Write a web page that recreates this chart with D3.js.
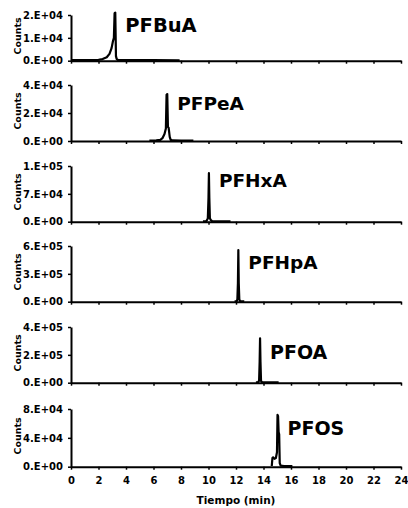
<!DOCTYPE html>
<html>
<head>
<meta charset="utf-8">
<script src="https://cdn.jsdelivr.net/npm/d3@7"></script>
<style>
  body { margin: 0; background: #fff; }
  svg text { font-family: "DejaVu Sans", sans-serif; font-weight: bold; fill: #000; }
</style>
</head>
<body>
<div id="chart"></div>
<script>
// retention time (min) / counts for each compound trace
const pfbuaTime   = [0, 1, 2, 2.3, 2.6, 2.8, 2.95, 3.05, 3.12, 3.17, 3.22, 3.27, 3.32, 3.4, 3.6, 4.5, 6, 7.9];
const pfbuaCounts = [300, 250, 400, 700, 1500, 3000, 5500, 8500, 10000, 20800, 21000, 2000, 800, 400, 300, 250, 300, 200];

const pfpeaTime   = [5.7, 6.2, 6.5, 6.65, 6.8, 6.9, 6.95, 7.0, 7.05, 7.1, 7.18, 7.25, 7.4, 8, 8.9];
const pfpeaCounts = [300, 400, 800, 2000, 5000, 9000, 33000, 33500, 10000, 9500, 3000, 800, 400, 300, 300];

const pfhxaTime   = [9.6, 9.85, 9.95, 10.0, 10.03, 10.06, 10.1, 10.15, 10.25, 10.5, 11.6];
const pfhxaCounts = [800, 1500, 8000, 60000, 122000, 60000, 9000, 5000, 1500, 1000, 800];

const pfhpaTime   = [11.9, 12.05, 12.1, 12.14, 12.17, 12.2, 12.24, 12.3, 12.6];
const pfhpaCounts = [3000, 5000, 25000, 200000, 556000, 200000, 25000, 5000, 3000];

const pfoaTime    = [13.45, 13.6, 13.68, 13.72, 13.75, 13.78, 13.82, 13.9, 14.3, 15.1];
const pfoaCounts  = [2000, 3000, 15000, 150000, 319000, 150000, 12000, 3000, 2500, 2000];

const pfosTime    = [14.6, 14.65, 14.7, 14.8, 14.9, 14.98, 15.02, 15.06, 15.1, 15.14, 15.18, 15.25, 15.5, 16.1];
const pfosCounts  = [1000, 12000, 13000, 11000, 12000, 20000, 72000, 70000, 48000, 45000, 5000, 1500, 1000, 800];

const compounds = ["PFBuA", "PFPeA", "PFHxA", "PFHpA", "PFOA", "PFOS"];
const yTicks = [
  [0, 1e4, 2e4],
  [0, 2e4, 4e4],
  [0, 7e4, 1.4e5],
  [0, 3e5, 6e5],
  [0, 2e5, 4e5],
  [0, 4e4, 8e4]
];
const xTicks = [0, 2, 4, 6, 8, 10, 12, 14, 16, 18, 20, 22, 24];

const traces = [
  [pfbuaTime, pfbuaCounts],
  [pfpeaTime, pfpeaCounts],
  [pfhxaTime, pfhxaCounts],
  [pfhpaTime, pfhpaCounts],
  [pfoaTime, pfoaCounts],
  [pfosTime, pfosCounts]
];

// pixel layout of each panel (top of axis, baseline, label baseline)
const layout = [
  {top: 15,  bottom: 60.7,  labelY: 32,  fs: 19.5},
  {top: 85,  bottom: 141,   labelY: 110, fs: 18.5},
  {top: 166, bottom: 221.7, labelY: 187, fs: 18.5},
  {top: 246, bottom: 301.7, labelY: 269, fs: 18.5},
  {top: 327, bottom: 382.7, labelY: 359, fs: 19},
  {top: 409, bottom: 466.7, labelY: 435, fs: 19}
];

const W = 408, H = 508;
const svg = d3.select("#chart").append("svg")
  .attr("width", W).attr("height", H);

const x = d3.scaleLinear().domain([0, 24]).range([71, 401]);

// 1.4e5 -> "1.E+05"
function sci(v) {
  if (v === 0) return "0.E+00";
  const e = Math.floor(Math.log10(v));
  const m = Math.floor(v / Math.pow(10, e) + 1e-9);
  return m + ".E+" + String(e).padStart(2, "0");
}

compounds.forEach((name, i) => {
  const L = layout[i];
  const ticks = yTicks[i];
  const y = d3.scaleLinear().domain([0, ticks[ticks.length - 1]]).range([L.bottom, L.top]);
  const g = svg.append("g");
  const last = i === compounds.length - 1;

  g.append("g")
    .attr("transform", "translate(0," + L.bottom + ")")
    .call(d3.axisBottom(x).tickValues(xTicks).tickSize(3).tickSizeOuter(0).tickPadding(7)
      .tickFormat(last ? d => d : () => ""))
    .call(a => a.selectAll("text").attr("font-size", 10).attr("font-family", "DejaVu Sans").attr("font-weight", "bold"));

  g.append("g")
    .attr("transform", "translate(71,0)")
    .call(d3.axisLeft(y).tickValues(ticks).tickSize(3).tickSizeOuter(0).tickPadding(5).tickFormat(sci))
    .call(a => a.selectAll("text").attr("font-size", 10).attr("font-family", "DejaVu Sans").attr("font-weight", "bold"));

  g.selectAll(".domain").attr("stroke", "#000").attr("stroke-width", 2);
  g.selectAll(".tick line").attr("stroke", "#000").attr("stroke-width", 1.5);

  const [tt, cc] = traces[i];
  const pts = tt.map((t, k) => [t, cc[k]]);
  g.append("path")
    .datum(pts)
    .attr("fill", "none")
    .attr("stroke", "#000")
    .attr("stroke-width", 2.2)
    .attr("stroke-linejoin", "round")
    .attr("d", d3.line().x(d => x(d[0])).y(d => y(d[1])));

  // peak label
  const peakT = tt[cc.indexOf(d3.max(cc))];
  g.append("text")
    .attr("x", x(peakT) + 10)
    .attr("y", L.labelY)
    .attr("font-size", L.fs)
    .text(name);

  g.append("text")
    .attr("transform", "translate(21," + ((L.top + L.bottom) / 2 - 2) + ") rotate(-90)")
    .attr("text-anchor", "middle")
    .attr("font-size", 9.5)
    .text("Counts");
});

svg.append("text")
  .attr("x", (x(0) + x(24)) / 2)
  .attr("y", 504)
  .attr("text-anchor", "middle")
  .attr("font-size", 10.5)
  .text("Tiempo (min)");
</script>
</body>
</html>
